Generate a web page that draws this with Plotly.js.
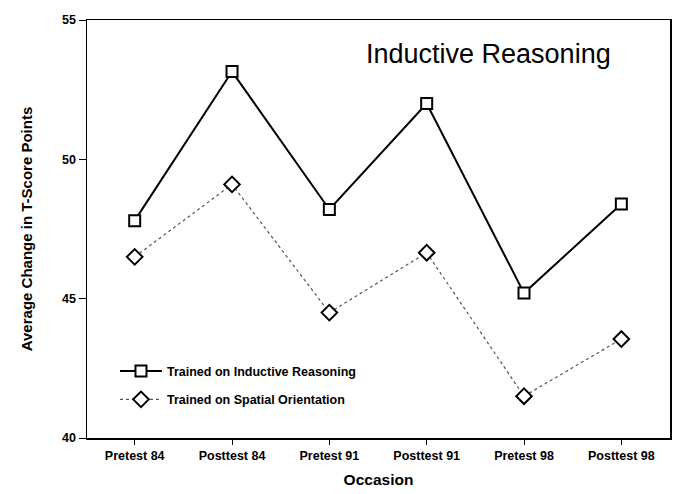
<!DOCTYPE html>
<html>
<head>
<meta charset="utf-8">
<script src="https://cdn.plot.ly/plotly-3.0.1.min.js"></script>
<style>html,body{margin:0;padding:0;background:#fff;}#chart{width:685px;height:494px;}</style>
</head>
<body>
<div id="chart"></div>
<script>
const occasions = ["Pretest 84", "Posttest 84", "Pretest 91", "Posttest 91", "Pretest 98", "Posttest 98"];
const inductiveTrained = [47.8, 53.15, 48.2, 52.0, 45.2, 48.4];
const spatialTrained = [46.5, 49.1, 44.5, 46.65, 41.5, 43.55];
const yTicks = [40, 45, 50, 55];
const seriesNames = ["Trained on Inductive Reasoning", "Trained on Spatial Orientation"];

const FONT = "Liberation Sans, Arial, Helvetica, sans-serif";

const traces = [
  {
    x: occasions, y: inductiveTrained, name: seriesNames[0],
    type: "scatter", mode: "lines+markers", legendgroup: "a",
    line: {color: "#000", width: 2},
    marker: {symbol: "square", size: 11, color: "#fff", line: {color: "#000", width: 2}}
  },
  {
    x: occasions, y: spatialTrained, name: seriesNames[1],
    type: "scatter", mode: "lines+markers", legendgroup: "b",
    line: {color: "#555", width: 1.2, dash: "dot"},
    marker: {symbol: "diamond", size: 12, color: "#fff", line: {color: "#000", width: 2}}
  }
];

const layout = {
  width: 685, height: 494,
  margin: {l: 87, r: 15, t: 20, b: 56},
  paper_bgcolor: "#fff", plot_bgcolor: "#fff",
  font: {family: FONT, color: "#000"},
  showlegend: true,
  legend: {
    x: 0.048, y: 0.195, xanchor: "left", yanchor: "top",
    bgcolor: "rgba(0,0,0,0)", borderwidth: 0,
    font: {family: FONT, size: 12.5, color: "#000", weight: "bold"},
    traceorder: "grouped", tracegroupgap: 9, itemwidth: 42
  },
  xaxis: {
    type: "category", range: [-0.49, 5.5],
    showline: true, linecolor: "#000", linewidth: 1.5, mirror: true,
    ticks: "outside", ticklen: 5, tickcolor: "#000", tickwidth: 1,
    showgrid: false, zeroline: false,
    tickfont: {family: FONT, size: 12.5, color: "#000", weight: "bold"},
    title: {text: "Occasion", font: {family: FONT, size: 15.5, color: "#000", weight: "bold"}, standoff: 12}
  },
  yaxis: {
    range: [40, 55], tickvals: yTicks, ticktext: yTicks.map(String),
    showline: true, linecolor: "#000", linewidth: 1.5, mirror: true,
    ticks: "outside", ticklen: 7, tickcolor: "#000", tickwidth: 1,
    showgrid: false, zeroline: false,
    tickfont: {family: FONT, size: 12.5, color: "#000", weight: "bold"},
    title: {text: "Average Change in T-Score Points", font: {family: FONT, size: 15, color: "#000", weight: "bold"}, standoff: 26}
  },
  annotations: [{
    xref: "paper", yref: "paper", x: 0.902, y: 0.918, xanchor: "right", yanchor: "middle",
    text: "Inductive Reasoning", showarrow: false,
    font: {family: FONT, size: 27, color: "#000", weight: 500}
  }]
};

Plotly.newPlot("chart", traces, layout, {displayModeBar: false, staticPlot: true});
</script>
</body>
</html>
